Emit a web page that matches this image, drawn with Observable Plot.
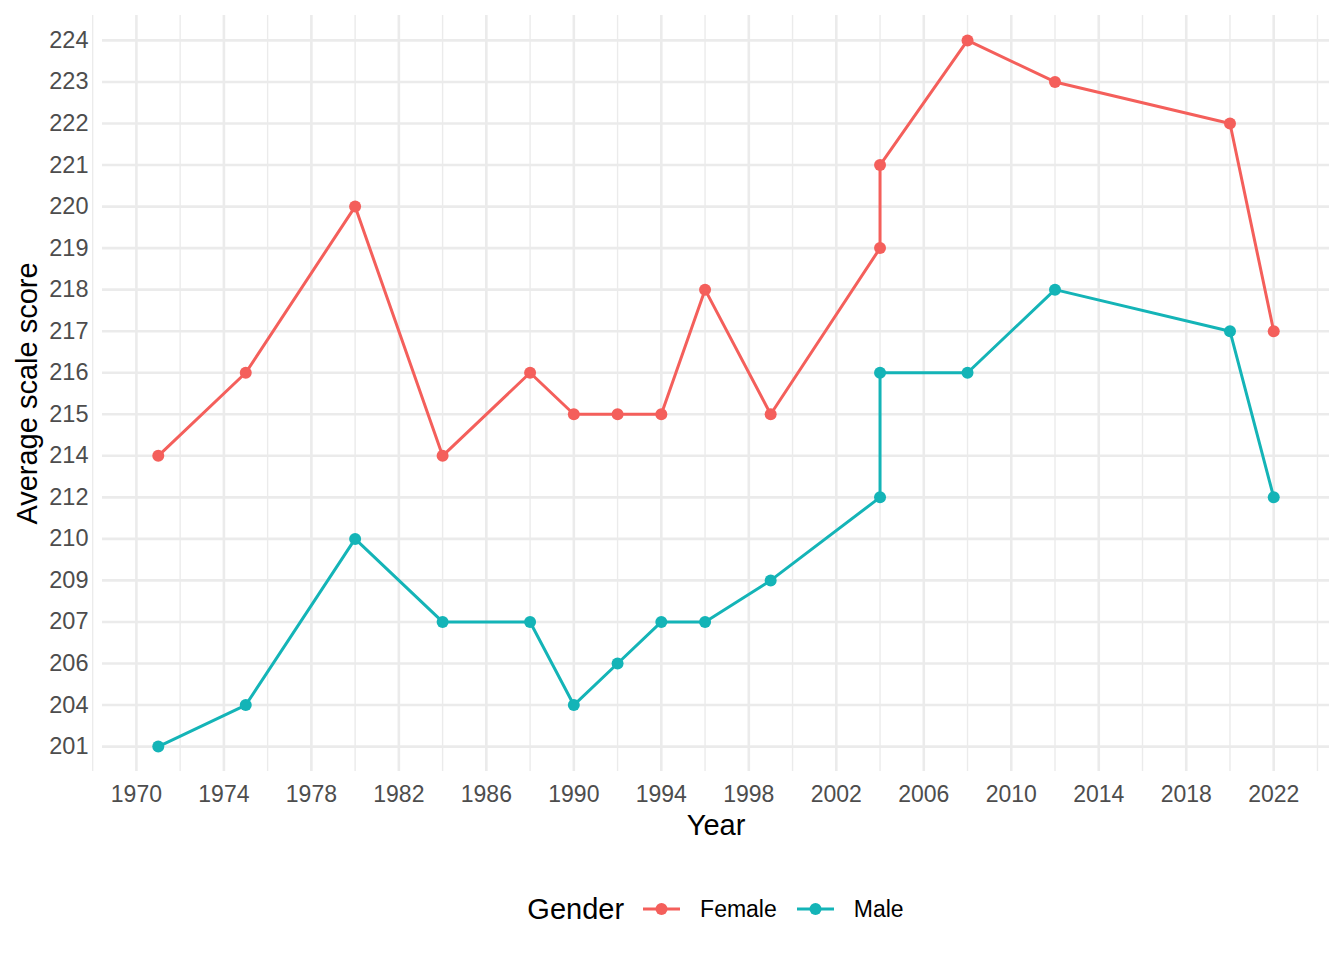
<!DOCTYPE html>
<html>
<head>
<meta charset="utf-8">
<script src="https://cdn.jsdelivr.net/npm/d3@7"></script>
<script src="https://cdn.jsdelivr.net/npm/@observablehq/plot@0.6"></script>
<style>
  html, body { margin: 0; padding: 0; background: #fff; }
  body { width: 1344px; height: 960px; overflow: hidden; font-family: "Liberation Sans", Arial, Helvetica, sans-serif; }
  #legend { margin-left: 102px; width: 1227px; height: 110px; display: flex; align-items: center; justify-content: center; padding-top: 8px; box-sizing: border-box; }
  #legend .title { font-size: 29px; color: #000; margin-right: 19px; }
  #legend .item { display: flex; align-items: center; margin-right: 20px; }
  #legend .item:last-child { margin-right: 0; }
  #legend .item span { font-size: 23px; color: #000; margin-left: 20px; }
</style>
</head>
<body>
<div id="chart"></div>
<div id="legend"></div>
<script>
const years  = [1971, 1975, 1980, 1984, 1988, 1990, 1992, 1994, 1996, 1999, 2004, 2004, 2008, 2012, 2020, 2022];
const female = [214, 216, 220, 214, 216, 215, 215, 215, 218, 215, 219, 221, 224, 223, 222, 217];
const male   = [201, 204, 210, 207, 207, 204, 206, 207, 207, 209, 212, 216, 216, 218, 217, 212];
const genders = ["Female", "Male"];
const colors  = ["#F45F5B", "#14B4B7"];
const yLevels = [224, 223, 222, 221, 220, 219, 218, 217, 216, 215, 214, 212, 210, 209, 207, 206, 204, 201];
const xMajor  = [1970, 1974, 1978, 1982, 1986, 1990, 1994, 1998, 2002, 2006, 2010, 2014, 2018, 2022];
const xMinor  = [1968, 1972, 1976, 1980, 1984, 1988, 1992, 1996, 2000, 2004, 2008, 2012, 2016, 2020, 2024];

const rows = [];
years.forEach((y, i) => rows.push({Year: y, Score: String(female[i]), Gender: "Female"}));
years.forEach((y, i) => rows.push({Year: y, Score: String(male[i]), Gender: "Male"}));

const xmin = d3.min(years), xmax = d3.max(years), ex = (xmax - xmin) * 0.05;

const plot = Plot.plot({
  width: 1344,
  height: 850,
  marginTop: 15,
  marginBottom: 79,
  marginLeft: 102,
  marginRight: 15,
  style: {fontFamily: '"Liberation Sans", Arial, Helvetica, sans-serif', background: "#fff"},
  x: {domain: [xmin - ex, xmax + ex]},
  y: {type: "point", domain: yLevels.map(String), padding: 0.6, round: false},
  color: {domain: genders, range: colors},
  marks: [
    Plot.ruleX(xMinor, {stroke: "#EBEBEB", strokeWidth: 1.4}),
    Plot.ruleX(xMajor, {stroke: "#EBEBEB", strokeWidth: 2.6}),
    Plot.ruleY(yLevels.map(String), {stroke: "#EBEBEB", strokeWidth: 2.6}),
    Plot.axisX(xMajor, {tickSize: 0, tickPadding: 14, fontSize: 23, color: "#4D4D4D", tickFormat: d => String(d),
      label: null}),
    Plot.axisY({tickSize: 0, tickPadding: 14, fontSize: 23.5, color: "#4D4D4D", label: null}),
    Plot.text(["Year"], {frameAnchor: "bottom", dy: 63, fontSize: 29, fill: "#000"}),
    Plot.text(["Average scale score"], {frameAnchor: "left", textAnchor: "middle", dx: -75, rotate: -90, fontSize: 29, fill: "#000"}),
    Plot.line(rows, {x: "Year", y: "Score", stroke: "Gender", strokeWidth: 3}),
    Plot.dot(rows, {x: "Year", y: "Score", fill: "Gender", r: 6})
  ]
});
document.getElementById("chart").appendChild(plot);

const lg = document.getElementById("legend");
const t = document.createElement("div");
t.className = "title"; t.textContent = "Gender";
lg.appendChild(t);
genders.forEach((g, i) => {
  const it = document.createElement("div");
  it.className = "item";
  it.innerHTML = `<svg width="37" height="24"><line x1="0" y1="12" x2="37" y2="12" stroke="${colors[i]}" stroke-width="3"/><circle cx="18.5" cy="12" r="6" fill="${colors[i]}"/></svg><span>${g}</span>`;
  lg.appendChild(it);
});
</script>
</body>
</html>
